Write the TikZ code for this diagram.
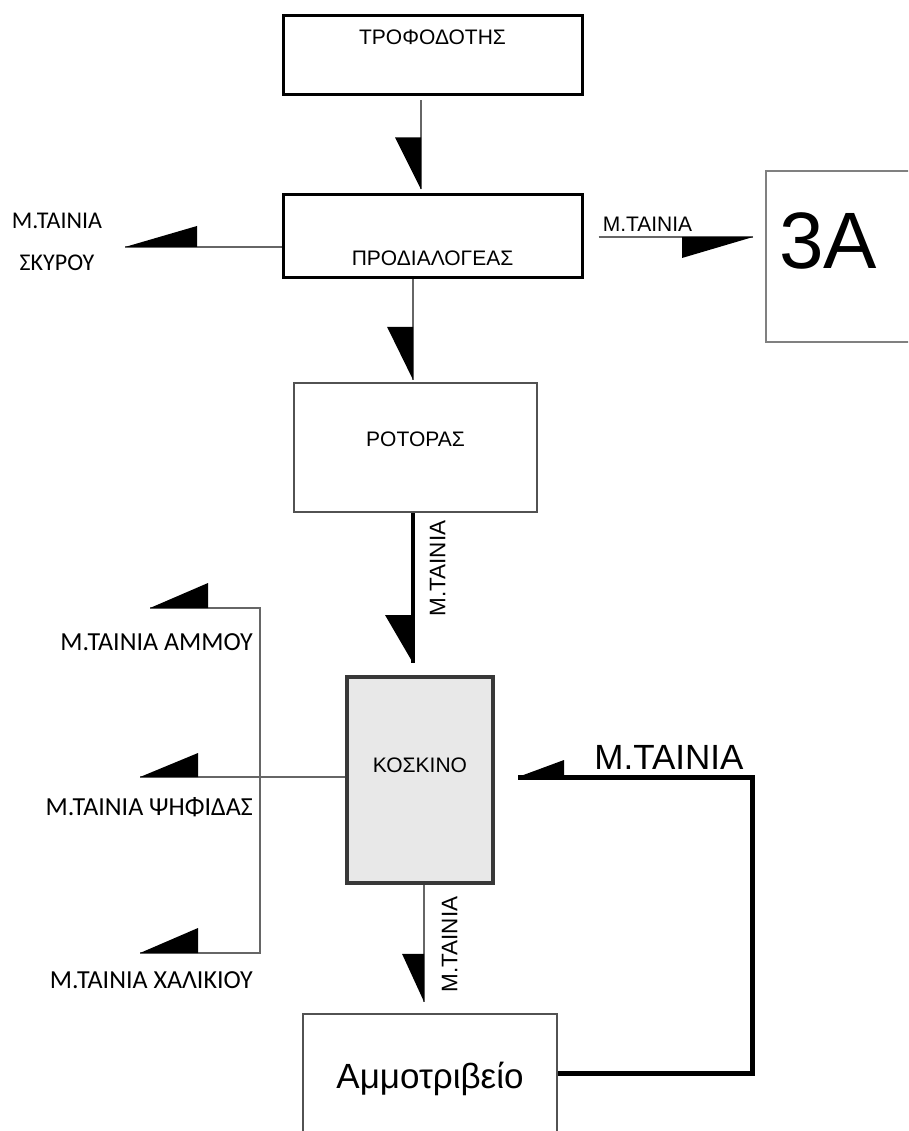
\documentclass[tikz,border=0pt]{standalone}
\usepackage{fontspec}
\setmainfont{Liberation Sans}
\newfontfamily\carlitofont{Carlito}
\usetikzlibrary{calc}

\begin{document}
\begin{tikzpicture}[x=1pt,y=-1pt,
  every node/.style={inner sep=0pt},
  unit/.style={rectangle, inner sep=0pt},
  darkbox/.style={unit, draw=black, line width=3pt},
  greybox/.style={unit, draw=black!68, line width=2.5pt},
  lightbox/.style={unit, draw=black!50, line width=2pt},
  sievebox/.style={unit, draw=black!78, line width=4pt, fill=black!9},
  boxtext/.style={font=\fontsize{21}{25}\selectfont},
  belttext/.style={font=\carlitofont\fontsize{24}{42}\selectfont},
  outtext/.style={font=\carlitofont\fontsize{26}{30}\selectfont},
  feedline/.style={draw=black!60, line width=1.6pt},
  beltline/.style={draw=black, line width=4pt},
  returnline/.style={draw=black, line width=5pt, line join=miter},
  head/.style={fill=black},
]
\useasboundingbox (0,0) rectangle (908,1131);
\clip (0,0) rectangle (908,1131);

% process units
\node[darkbox, minimum width=299pt, minimum height=79pt,
      label={[boxtext, yshift=18pt]center:ΤΡΟΦΟΔΟΤΗΣ}] (feed) at (432.5,55.5) {};
\node[darkbox, minimum width=299pt, minimum height=83pt,
      label={[boxtext, yshift=-22pt]center:ΠΡΟΔΙΑΛΟΓΕΑΣ}] (pre) at (432.5,236.5) {};
\node[lightbox, minimum width=154pt, minimum height=171pt,
      label={[font=\fontsize{80}{84}\selectfont, xshift=-15pt, yshift=15.5pt]center:3A}] (zone) at (843,256.5) {};
\node[greybox, minimum width=243pt, minimum height=129pt,
      label={[boxtext, yshift=8.5pt]center:ΡΟΤΟΡΑΣ}] (rot) at (415.5,447.5) {};
\node[sievebox, minimum width=146pt, minimum height=206pt,
      label={[boxtext, yshift=14.5pt]center:ΚΟΣΚΙΝΟ}] (sieve) at (420,780) {};
\node[greybox, minimum width=254pt, minimum height=132pt,
      label={[font=\fontsize{35}{40}\selectfont, yshift=1.5pt]center:Αμμοτριβείο}] (mill) at (430,1080) {};

% feeder -> pre-screen
\coordinate (t1) at ([xshift=-11.5pt,yshift=4pt]pre.north);
\draw[feedline, shorten <=4pt] ([xshift=-11.5pt]feed.south) -- (t1);
\fill[head] (t1) -- ++(0,-52) -- ++(-26,0) -- cycle;

% pre-screen -> rotor
\coordinate (t2) at ([xshift=-2.5pt,yshift=2pt]rot.north);
\draw[feedline] (t2 |- pre.south) -- (t2);
\fill[head] (t2) -- ++(0,-53) -- ++(-26,0) -- cycle;

% pre-screen -> rubble belt (left)
\coordinate (rubbleTip) at (125,247);
\draw[feedline] (rubbleTip -| pre.west) -- (rubbleTip);
\fill[head] (rubbleTip) -- ++(72,0) -- ++(0,-21) -- cycle;
\node[belttext, align=center] (rubbleLbl) at (57,242) {Μ.ΤΑΙΝΙΑ\\ΣΚΥΡΟΥ};

% pre-screen -> zone 3A
\coordinate (zoneTip) at (753,237);
\draw[feedline, shorten <=15pt] (zoneTip -| pre.east) -- (zoneTip);
\fill[head] (zoneTip) -- ++(-71,0) -- ++(0,21) -- cycle;
\node[font=\fontsize{21}{25}\selectfont] (zoneLbl) at (647.5,224) {Μ.ΤΑΙΝΙΑ};

% rotor -> screen
\path (rot.south |- sieve.north) ++(-2.5,-12) coordinate (t3);
\draw[beltline] ([xshift=-2.5pt]rot.south) -- (t3)
  node[pos=0.37, rotate=90, anchor=north, inner xsep=0pt, inner ysep=15pt,
       font=\fontsize{22.5}{26}\selectfont] (lbl3) {Μ.ΤΑΙΝΙΑ};
\fill[head] (t3) -- ++(0,-48) -- ++(-28,0) -- cycle;

% screen -> sand mill
\path (sieve.south |- mill.north) ++(4,-11) coordinate (t4);
\draw[feedline] ([xshift=4pt]sieve.south) -- (t4)
  node[pos=0.51, rotate=90, anchor=north, inner xsep=0pt, inner ysep=17pt,
       font=\fontsize{22.5}{26}\selectfont] (lbl4) {Μ.ΤΑΙΝΙΑ};
\fill[head] (t4) -- ++(0,-48) -- ++(-22,0) -- cycle;

% screen outputs (left)
\coordinate (sandTip) at (150,608);
\coordinate (gritTip) at (140,777);
\coordinate (gravelTip) at (140,953);
\coordinate (busTop) at (260,608);
\coordinate (busBot) at (260,953);
\draw[feedline] (sieve.west |- gritTip) -- (gritTip);
\draw[feedline, line join=miter] (sandTip) -- (busTop) -- (busBot) -- (gravelTip);
\fill[head] (sandTip) -- ++(58,0) -- ++(0,-25) -- cycle;
\fill[head] (gritTip) -- ++(58,0) -- ++(0,-24) -- cycle;
\fill[head] (gravelTip) -- ++(58,0) -- ++(0,-25) -- cycle;
\node[outtext, anchor=east] (sandLbl) at (253,642) {Μ.ΤΑΙΝΙΑ ΑΜΜΟΥ};
\node[outtext, anchor=east] (gritLbl) at (253,807) {Μ.ΤΑΙΝΙΑ ΨΗΦΙΔΑΣ};
\node[outtext, anchor=east] (gravelLbl) at (253,980) {Μ.ΤΑΙΝΙΑ ΧΑΛΙΚΙΟΥ};

% sand mill -> screen (return belt)
\coordinate (retLow) at (752,1073);
\coordinate (retHigh) at (752,777);
\coordinate (retTip) at (518,777);
\draw[returnline] (mill.east |- retLow) -- (retLow) -- (retHigh) -- (retTip);
\fill[head] (retTip) -- ++(46,0) -- ++(0,-17) -- cycle;
\node[font=\fontsize{35}{40}\selectfont] (retLbl) at (669,757.5) {Μ.ΤΑΙΝΙΑ};
\end{tikzpicture}
\end{document}
